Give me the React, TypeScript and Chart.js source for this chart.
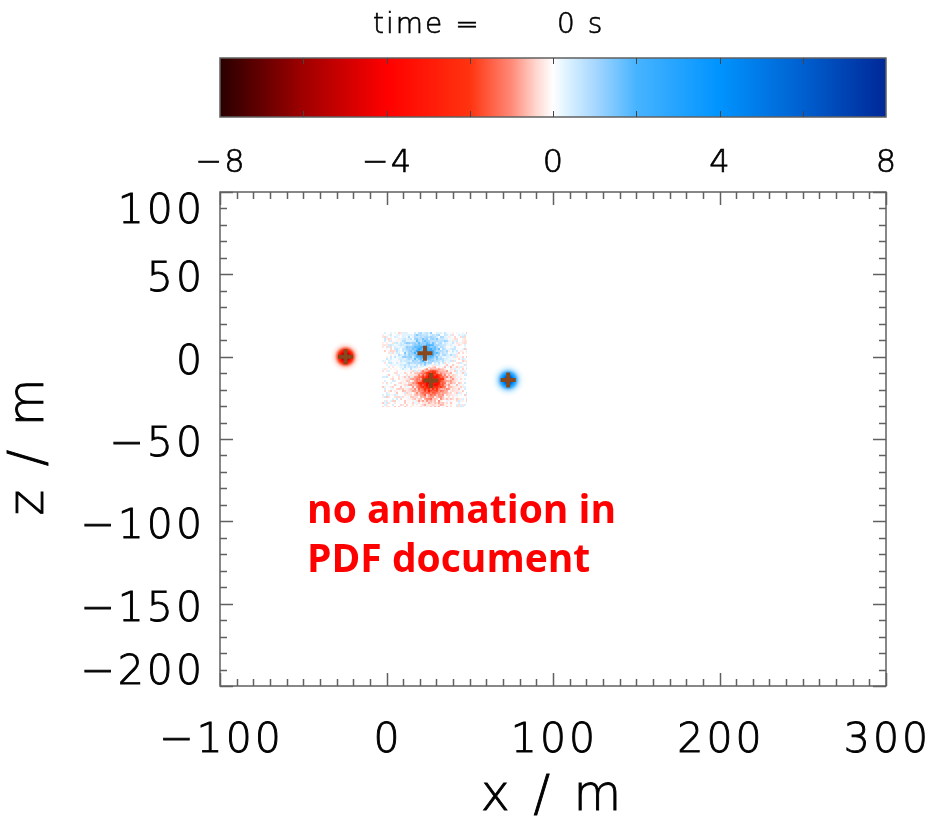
import React, { useEffect, useRef } from 'react';
import { Chart, registerables } from 'chart.js';

Chart.register(...registerables);

// ---- data ----
const chargeX = [-24.6, 23.1, 26.7, 73.1];      // m
const chargeZ = [0.0, 2.0, -14.4, -14.2];       // m
const chargeAmp = [-8, 1.6, -3.6, 8];           // core amplitude (colour-bar units)
const chargeWidth = [2.7, 4.5, 4.2, 3.0];       // core sigma (m)
const haloAmp = [0, 0.95, -0.75, 0];            // halo amplitude
const haloRadius = [0, 15.5, 15.0, 0];          // halo radius (m)
const chargeInBox = [false, true, true, false];
const boxX = [-2.7, 48.3];
const boxZ = [-30.8, 14.8];

const xRange = [-100, 300];
const zRange = [-200, 100];
const xTicks = [-100, 0, 100, 200, 300];
const zTicks = [-200, -150, -100, -50, 0, 50, 100];
const xMinorStep = 10;
const zMinorStep = 10;

const cbRange = [-8, 8];
const cbTicks = [-8, -4, 0, 4, 8];
const cbMinorStep = 2;
const cbStops = [-8, -6, -4, -2, -1, -0.4, 0, 0.4, 1, 2, 4, 6, 8];
const cbColors = ['#2a0000', '#a00000', '#ff0000', '#ff3410', '#ff8a78', '#ffd8d0', '#ffffff', '#d8f0ff', '#a8d8ff', '#48b4ff', '#0094ff', '#0060d0', '#002898'];

const timeLabel = 'time =       0 s';
const xTitle = 'x / m';
const zTitle = 'z / m';
const noteLines = ['no animation in', 'PDF document'];

// ---- helpers ----
const fmt = (v: number) => (v < 0 ? '\u2212' + Math.abs(v) : String(v));

const rgbStops = cbColors.map((c) => [
  parseInt(c.slice(1, 3), 16),
  parseInt(c.slice(3, 5), 16),
  parseInt(c.slice(5, 7), 16),
]);

function cmap(v: number): number[] {
  if (v <= cbStops[0]) return rgbStops[0];
  if (v >= cbStops[cbStops.length - 1]) return rgbStops[rgbStops.length - 1];
  for (let i = 0; i < cbStops.length - 1; i++) {
    if (v >= cbStops[i] && v <= cbStops[i + 1]) {
      const t = (v - cbStops[i]) / (cbStops[i + 1] - cbStops[i]);
      const a = rgbStops[i], b = rgbStops[i + 1];
      return [a[0] + (b[0] - a[0]) * t, a[1] + (b[1] - a[1]) * t, a[2] + (b[2] - a[2]) * t];
    }
  }
  return [255, 255, 255];
}

function hash(i: number, j: number): number {
  let h = (Math.imul(i, 374761393) + Math.imul(j, 668265263)) | 0;
  h = Math.imul(h ^ (h >>> 13), 1274126177);
  h = h ^ (h >>> 16);
  return (h >>> 0) / 4294967296;
}

const FRAME = '#606060';
const TXT = '#000000';
const LABEL_FONT = '300 41px "DejaVu Sans"';
const CB_FONT = '300 32px "DejaVu Sans"';
const TITLE_FONT = '300 49px "DejaVu Sans"';
const TIME_FONT = '300 28px "DejaVu Sans"';

function boldText(ctx: CanvasRenderingContext2D, s: string, x: number, y: number, w: number) {
  ctx.lineWidth = w;
  ctx.strokeStyle = TXT;
  ctx.strokeText(s, x, y);
  ctx.fillText(s, x, y);
}

const fieldPlugin = {
  id: 'field',
  beforeDatasetsDraw(chart: any) {
    const { ctx, chartArea: a, scales } = chart;
    const xs = scales.x, ys = scales.y;
    const w = Math.round(a.right - a.left), h = Math.round(a.bottom - a.top);
    const img = ctx.createImageData(w, h);
    const d = img.data;
    const colX = new Float64Array(w);
    const rowZ = new Float64Array(h);
    for (let i = 0; i < w; i++) colX[i] = xs.getValueForPixel(a.left + i + 0.5);
    for (let j = 0; j < h; j++) rowZ[j] = ys.getValueForPixel(a.top + j + 0.5);
    for (let j = 0; j < h; j++) {
      const z = rowZ[j];
      for (let i = 0; i < w; i++) {
        const x = colX[i];
        const inBox = x >= boxX[0] && x <= boxX[1] && z >= boxZ[0] && z <= boxZ[1];
        let v = 0;
        const ci = i >> 1, cj = j >> 1;
        const grain = inBox ? hash(ci, cj) : 0.5;
        for (let k = 0; k < chargeX.length; k++) {
          if (chargeInBox[k] && !inBox) continue;
          const dx = x - chargeX[k], dz = z - chargeZ[k];
          const r2 = dx * dx + dz * dz;
          const s = chargeWidth[k];
          let g = 0;
          if (r2 < 25 * s * s) g += chargeAmp[k] * Math.exp(-r2 / (2 * s * s));
          if (haloAmp[k] !== 0) {
            const q = r2 / (haloRadius[k] * haloRadius[k]);
            if (q < 4) g += haloAmp[k] * Math.exp(-q * q);
          }
          if (chargeInBox[k]) g *= 0.7 + 0.6 * grain;
          v += g;
        }
        if (inBox) {
          const n = hash(ci + 7919, cj + 104729);
          const m = hash(ci + 31337, cj + 271);
          if (n < 0.25) v -= 0.12 + 0.4 * m;
          else if (n < 0.5) v += 0.12 + 0.45 * m;
        }
        const o = (j * w + i) * 4;
        if (Math.abs(v) < 0.03) {
          d[o] = 255; d[o + 1] = 255; d[o + 2] = 255;
        } else {
          const c = cmap(v);
          d[o] = c[0]; d[o + 1] = c[1]; d[o + 2] = c[2];
        }
        d[o + 3] = 255;
      }
    }
    ctx.putImageData(img, a.left, a.top);
  },
};

const decorPlugin = {
  id: 'decor',
  afterDraw(chart: any) {
    const { ctx, chartArea: a, scales } = chart;
    const xs = scales.x, ys = scales.y;
    ctx.save();

    // ---- frame & inward ticks ----
    ctx.strokeStyle = FRAME;
    ctx.lineWidth = 1.5;
    ctx.strokeRect(a.left, a.top, a.right - a.left, a.bottom - a.top);
    ctx.beginPath();
    for (let v = xRange[0]; v <= xRange[1]; v += xMinorStep) {
      const p = Math.round(xs.getPixelForValue(v)) + 0.5;
      const L = xTicks.includes(v) ? 13 : 7;
      ctx.moveTo(p, a.bottom); ctx.lineTo(p, a.bottom - L);
      ctx.moveTo(p, a.top); ctx.lineTo(p, a.top + L);
    }
    for (let v = zRange[0]; v <= zRange[1]; v += zMinorStep) {
      const p = Math.round(ys.getPixelForValue(v)) + 0.5;
      const L = zTicks.includes(v) ? 13 : 7;
      ctx.moveTo(a.left, p); ctx.lineTo(a.left + L, p);
      ctx.moveTo(a.right, p); ctx.lineTo(a.right - L, p);
    }
    ctx.stroke();

    // ---- tick labels ----
    ctx.fillStyle = TXT;
    ctx.font = LABEL_FONT;
    const ls = 3;
    ctx.letterSpacing = ls + 'px';
    const half = 0.729 * 41 / 2;
    ctx.textBaseline = 'alphabetic';
    ctx.textAlign = 'center';
    for (const v of xTicks) {
      boldText(ctx, fmt(v), xs.getPixelForValue(v) + ls / 2, 737 + half, 0.9);
    }
    ctx.textAlign = 'right';
    for (const v of zTicks) {
      let cy = ys.getPixelForValue(v) + 2;
      if (v === zRange[1]) cy += 14;
      if (v === zRange[0]) cy -= 19;
      boldText(ctx, fmt(v), a.left - 18 + ls, cy + half, 0.9);
    }

    // ---- axis titles ----
    ctx.font = TITLE_FONT;
    ctx.letterSpacing = '4px';
    ctx.textAlign = 'center';
    boldText(ctx, xTitle, (a.left + a.right) / 2, 810, 0.9);
    ctx.save();
    ctx.translate(43, 445);
    ctx.rotate(-Math.PI / 2);
    boldText(ctx, zTitle, 0, 0, 0.9);
    ctx.restore();

    // ---- colour bar ----
    const cbL = a.left, cbR = a.right, cbT = 58, cbB = 117;
    const cbW = cbR - cbL;
    for (let px = 0; px < cbW; px++) {
      const v = cbRange[0] + ((px + 0.5) / cbW) * (cbRange[1] - cbRange[0]);
      const c = cmap(v);
      ctx.fillStyle = `rgb(${c[0] | 0},${c[1] | 0},${c[2] | 0})`;
      ctx.fillRect(cbL + px, cbT, 1, cbB - cbT);
    }
    ctx.strokeStyle = FRAME;
    ctx.lineWidth = 1.5;
    ctx.strokeRect(cbL, cbT, cbW, cbB - cbT);
    ctx.strokeStyle = '#444';
    ctx.lineWidth = 1;
    ctx.beginPath();
    for (let v = cbRange[0] + cbMinorStep; v < cbRange[1]; v += cbMinorStep) {
      const p = Math.round(cbL + ((v - cbRange[0]) / (cbRange[1] - cbRange[0])) * cbW) + 0.5;
      ctx.moveTo(p, cbT); ctx.lineTo(p, cbT + 6);
      ctx.moveTo(p, cbB); ctx.lineTo(p, cbB - 6);
    }
    ctx.stroke();
    ctx.fillStyle = TXT;
    ctx.font = CB_FONT;
    ctx.letterSpacing = '2px';
    ctx.textAlign = 'center';
    for (const v of cbTicks) {
      const p = cbL + ((v - cbRange[0]) / (cbRange[1] - cbRange[0])) * cbW;
      boldText(ctx, fmt(v), p + 1, 160 + 0.729 * 32 / 2, 0.7);
    }
    ctx.font = TIME_FONT;
    ctx.textAlign = 'left';
    boldText(ctx, timeLabel, 373, 33, 0.6);

    // ---- note ----
    ctx.letterSpacing = '0px';
    ctx.fillStyle = '#ff0000';
    ctx.font = 'bold 39px "Open Sans"';
    ctx.textAlign = 'left';
    ctx.fillText(noteLines[0], 307, 523);
    ctx.fillText(noteLines[1], 307, 572);

    ctx.restore();
  },
};

export default function App() {
  const ref = useRef<HTMLCanvasElement | null>(null);
  useEffect(() => {
    document.body.style.margin = '0';
    const canvas = ref.current;
    if (!canvas) return;
    const chart = new Chart(canvas, {
      type: 'scatter',
      data: {
        datasets: [
          {
            label: 'charges',
            data: chargeX.map((x, i) => ({ x, y: chargeZ[i] })),
            pointStyle: 'cross',
            pointRadius: 7.5,
            pointHoverRadius: 7.5,
            borderWidth: 4,
            borderColor: '#86481c',
            backgroundColor: '#86481c',
          },
        ],
      },
      options: {
        animation: false,
        responsive: false,
        events: [],
        layout: { padding: { left: 220, top: 192, right: 48, bottom: 136 } },
        scales: {
          x: { type: 'linear', min: xRange[0], max: xRange[1], display: false },
          y: { type: 'linear', min: zRange[0], max: zRange[1], display: false },
        },
        plugins: { legend: { display: false }, tooltip: { enabled: false } },
      },
      plugins: [fieldPlugin, decorPlugin],
    });
    return () => chart.destroy();
  }, []);
  return (
    <canvas ref={ref} width={934} height={822} style={{ display: 'block', width: 934, height: 822 }} />
  );
}
